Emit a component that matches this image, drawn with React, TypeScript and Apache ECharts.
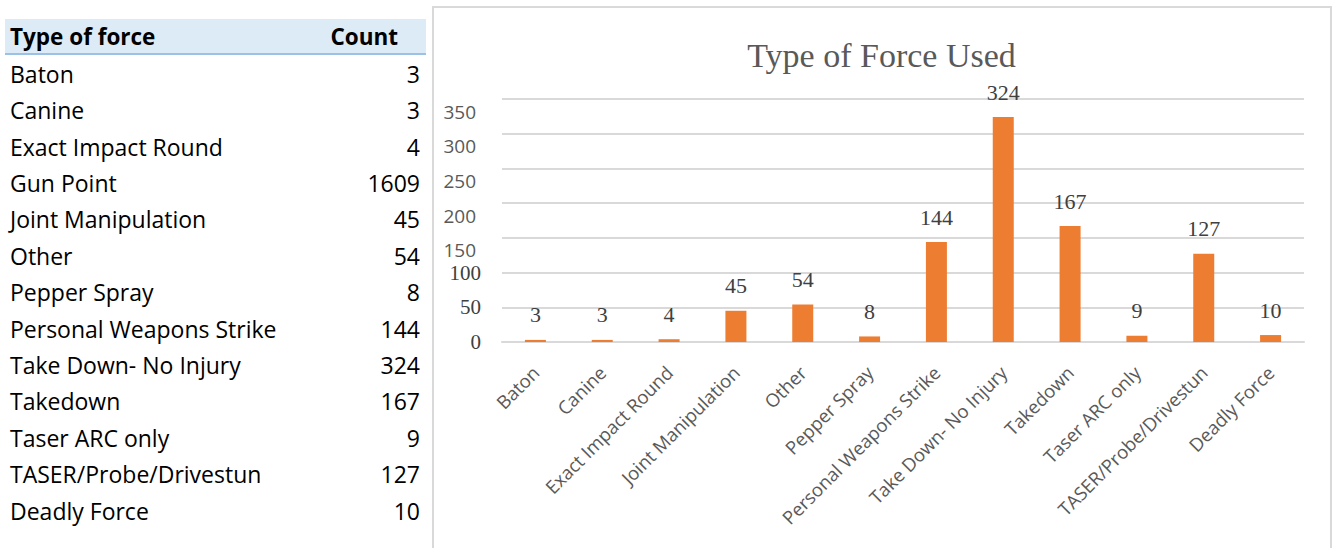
import React, { useEffect, useRef } from "react";
import * as echarts from "echarts";

// ---- data ----
const tableTypes = [
  "Baton",
  "Canine",
  "Exact Impact Round",
  "Gun Point",
  "Joint Manipulation",
  "Other",
  "Pepper Spray",
  "Personal Weapons Strike",
  "Take Down- No Injury",
  "Takedown",
  "Taser ARC only",
  "TASER/Probe/Drivestun",
  "Deadly Force",
];
const tableCounts = [3, 3, 4, 1609, 45, 54, 8, 144, 324, 167, 9, 127, 10];

const categories = [
  "Baton",
  "Canine",
  "Exact Impact Round",
  "Joint Manipulation",
  "Other",
  "Pepper Spray",
  "Personal Weapons Strike",
  "Take Down- No Injury",
  "Takedown",
  "Taser ARC only",
  "TASER/Probe/Drivestun",
  "Deadly Force",
];
const values = [3, 3, 4, 45, 54, 8, 144, 324, 167, 9, 127, 10];

const chartTitle = "Type of Force Used";
const yMax = 350;
const yInterval = 50;

const tableFont = "'Open Sans', sans-serif";

export default function App() {
  const ref = useRef<HTMLDivElement>(null);

  useEffect(() => {
    if (!ref.current) return;
    const chart = echarts.init(ref.current, undefined, { renderer: "svg" });
    chart.setOption({
      animation: false,
      backgroundColor: "transparent",
      title: {
        text: chartTitle,
        left: "center",
        top: 26,
        textStyle: {
          fontFamily: "'Liberation Serif', 'Times New Roman', serif",
          fontWeight: "normal",
          fontSize: 34,
          color: "#595959",
        },
      },
      grid: { left: 69, right: 26, top: 92, bottom: 206, containLabel: false },
      xAxis: {
        type: "category",
        data: categories,
        axisLine: { show: true, lineStyle: { color: "#d9d9d9", width: 2 } },
        axisTick: { show: false },
        axisLabel: {
          interval: 0,
          rotate: 45,
          margin: 27,
          fontFamily: "'Open Sans', sans-serif",
          fontSize: 18.5,
          color: "#595959",
        },
      },
      yAxis: {
        type: "value",
        min: 0,
        max: yMax,
        interval: yInterval,
        axisLine: { show: false },
        axisTick: { show: false },
        splitLine: { lineStyle: { color: "#d9d9d9", width: 2 } },
        axisLabel: {
          margin: 21,
          formatter: (v: number) => (v >= 150 ? `{s|${v}}` : `{t|${v}}`),
          rich: {
            s: {
              fontFamily: "'Open Sans', sans-serif",
              fontSize: 19,
              color: "#595959",
              padding: [25, 5, 0, 0],
            },
            t: {
              fontFamily: "'Liberation Serif', 'Times New Roman', serif",
              fontSize: 21,
              color: "#404040",
            },
          },
        },
      },
      series: [
        {
          type: "bar",
          data: values,
          barWidth: 21,
          itemStyle: { color: "#ED7D31" },
          label: {
            show: true,
            position: "top",
            distance: 14,
            fontFamily: "'Liberation Serif', 'Times New Roman', serif",
            fontSize: 22,
            color: "#404040",
          },
        },
      ],
    });
    return () => chart.dispose();
  }, []);

  const rowH = 36.4;
  return (
    <div
      style={{
        position: "fixed",
        left: 0,
        top: 0,
        width: 1333,
        height: 548,
        background: "#fff",
        overflow: "hidden",
      }}
    >
      {/* table */}
      <div
        style={{
          position: "absolute",
          left: 5,
          top: 19,
          width: 421,
          height: 34,
          background: "#DDEBF7",
          borderBottom: "2px solid #9BC2E6",
          fontFamily: tableFont,
          fontWeight: "bold",
          fontSize: 22.5,
          color: "#000",
        }}
      >
        <span style={{ position: "absolute", left: 5, top: 0, lineHeight: "35px" }}>Type of force</span>
        <span style={{ position: "absolute", right: 28, top: 0, lineHeight: "35px" }}>Count</span>
      </div>
      {tableTypes.map((t, i) => (
        <div
          key={t}
          style={{
            position: "absolute",
            left: 10,
            width: 410,
            top: 74 - rowH / 2 + i * rowH,
            height: rowH,
            lineHeight: `${rowH}px`,
            fontFamily: tableFont,
            fontSize: 23,
            color: "#000",
          }}
        >
          <span style={{ position: "absolute", left: 0 }}>{t}</span>
          <span style={{ position: "absolute", right: 0 }}>{tableCounts[i]}</span>
        </div>
      ))}
      {/* chart frame */}
      <div
        style={{
          position: "absolute",
          left: 432,
          top: 6,
          width: 896,
          height: 600,
          border: "2px solid #d9d9d9",
        }}
      />
      <div
        ref={ref}
        style={{ position: "absolute", left: 433, top: 7, width: 897, height: 541 }}
      />
    </div>
  );
}
